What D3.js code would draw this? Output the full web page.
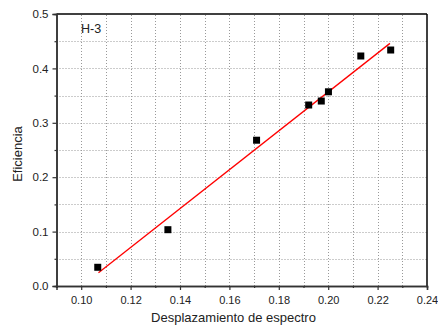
<!DOCTYPE html>
<html><head><meta charset="utf-8">
<script src="https://cdn.jsdelivr.net/npm/d3@7"></script>
<style>body{margin:0;background:#fff}svg{display:block}text{font-family:"Liberation Sans",Arial,sans-serif;fill:#222}</style>
</head><body>
<script>
const xValues = [0.1067, 0.1351, 0.171, 0.1921, 0.1972, 0.2001, 0.2132, 0.2253];
const yValues = [0.0344, 0.1035, 0.268, 0.3327, 0.340, 0.357, 0.4228, 0.4338];
const fitX = [0.107, 0.225];
const fitY = [0.0245, 0.446];
const xTicks = [0.10, 0.12, 0.14, 0.16, 0.18, 0.20, 0.22, 0.24];
const xMinor = [0.09, 0.11, 0.13, 0.15, 0.17, 0.19, 0.21, 0.23];
const yTicks = [0.0, 0.1, 0.2, 0.3, 0.4, 0.5];
const yMinor = [0.05, 0.15, 0.25, 0.35, 0.45];
const label = "H-3";

const W = 438, H = 325;
const m = {l:56.5, r:W-427, t:14, b:H-286};
const svg = d3.select("body").append("svg").attr("width", W).attr("height", H);
const x = d3.scaleLinear().domain([0.09, 0.24]).range([m.l, W-m.r]);
const y = d3.scaleLinear().domain([0, 0.5]).range([H-m.b, m.t]);

const grid = svg.append("g").attr("stroke", "#999").attr("stroke-width", 1).attr("stroke-dasharray", "1,2");
grid.selectAll(".gx").data(xTicks.concat(xMinor).filter(v => v > 0.09 && v < 0.24)).join("line")
  .attr("x1", d => Math.round(x(d)) + 0.5).attr("x2", d => Math.round(x(d)) + 0.5)
  .attr("y1", y(0)).attr("y2", y(0.5));
grid.selectAll(".gy").data(yTicks.concat(yMinor).filter(v => v > 0 && v < 0.5)).join("line")
  .attr("y1", d => Math.round(y(d)) + 0.5).attr("y2", d => Math.round(y(d)) + 0.5)
  .attr("x1", x(0.09)).attr("x2", x(0.24));

svg.append("line").attr("x1", x(0.09)).attr("x2", x(0.24)).attr("y1", y(0.5)).attr("y2", y(0.5)).attr("stroke", "#000").attr("stroke-width", 1.5);
svg.append("line").attr("x1", x(0.24)).attr("x2", x(0.24)).attr("y1", y(0.5)).attr("y2", y(0)).attr("stroke", "#000").attr("stroke-width", 1.5);

const fmt = d3.format(".2f");
const xAxis = svg.append("g").attr("transform", `translate(0,${y(0)})`)
  .call(d3.axisBottom(x).tickValues(xTicks).tickFormat(fmt).tickSize(4).tickPadding(6));
const xAxisMinor = svg.append("g").attr("transform", `translate(0,${y(0)})`)
  .call(d3.axisBottom(x).tickValues(xMinor).tickFormat("").tickSize(2));
const yAxis = svg.append("g").attr("transform", `translate(${x(0.09)},0)`)
  .call(d3.axisLeft(y).tickValues(yTicks).tickFormat(d3.format(".1f")).tickSize(4).tickPadding(4));
const yAxisMinor = svg.append("g").attr("transform", `translate(${x(0.09)},0)`)
  .call(d3.axisLeft(y).tickValues(yMinor).tickFormat("").tickSize(2));
[xAxis, xAxisMinor, yAxis, yAxisMinor].forEach(g => {
  g.select(".domain").attr("stroke", "#333").attr("stroke-width", 1.5);
  g.selectAll(".tick line").attr("stroke", "#333").attr("stroke-width", 1.2);
  g.selectAll("text").attr("fill", "#222").style("font-family", '"Liberation Sans",Arial,sans-serif');
});
xAxis.selectAll("text").style("font-size", "11px");
yAxis.selectAll("text").style("font-size", "11.5px");

svg.append("line")
  .attr("x1", x(fitX[0])).attr("y1", y(fitY[0]))
  .attr("x2", x(fitX[1])).attr("y2", y(fitY[1]))
  .attr("stroke", "#f00").attr("stroke-width", 1.3);

const s = 7;
svg.selectAll(".pt").data(xValues.map((v, i) => [v, yValues[i]])).join("rect")
  .attr("x", d => x(d[0]) - s/2).attr("y", d => y(d[1]) - s/2)
  .attr("width", s).attr("height", s).attr("fill", "#000");

svg.append("text").attr("x", 81).attr("y", 33).style("font-size", "12.5px").text(label);
svg.append("text").attr("x", 233.5).attr("y", 322).attr("text-anchor", "middle").style("font-size", "13px").text("Desplazamiento de espectro");
svg.append("text").attr("transform", `translate(22,154) rotate(-90)`).attr("text-anchor", "middle").style("font-size", "13px").text("Eficiencia");
</script>
</body></html>
